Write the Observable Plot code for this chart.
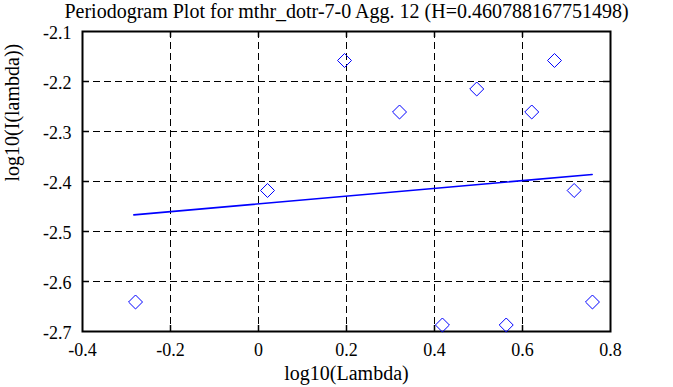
<!DOCTYPE html>
<html>
<head>
<meta charset="utf-8">
<script src="https://cdn.jsdelivr.net/npm/d3@7"></script>
<script src="https://cdn.jsdelivr.net/npm/@observablehq/plot@0.6"></script>
<style>
  html, body { margin: 0; padding: 0; background: #fff; }
  svg { display: block; }
</style>
</head>
<body>
<div id="chart"></div>
<script>
const titleText = "Periodogram Plot for mthr_dotr-7-0 Agg. 12 (H=0.460788167751498)";
const xLabel = "log10(Lambda)";
const yLabel = "log10(I(lambda))";

const logLambda = [-0.2795, 0.0205, 0.1955, 0.3205, 0.418, 0.496, 0.563, 0.621, 0.6727, 0.7174, 0.759];
const logI      = [-2.641, -2.418, -2.158, -2.261, -2.687, -2.215, -2.687, -2.261, -2.158, -2.418, -2.641];

const fitX = [-0.2833, 0.7583];
const fitY = [-2.4667, -2.386];

const xTicks = [-0.4, -0.2, 0, 0.2, 0.4, 0.6, 0.8];
const xTickLabels = ["-0.4", "-0.2", "0", "0.2", "0.4", "0.6", "0.8"];
const yTicks = [-2.1, -2.2, -2.3, -2.4, -2.5, -2.6, -2.7];
const yTickLabels = ["-2.1", "-2.2", "-2.3", "-2.4", "-2.5", "-2.6", "-2.7"];

const points = logLambda.map((x, i) => ({x, y: logI[i]}));
const fit = fitX.map((x, i) => ({x, y: fitY[i]}));
const xInner = xTicks.slice(1, -1);
const yInner = yTicks.slice(1, -1);

const chart = Plot.plot({
  width: 673,
  height: 387,
  marginLeft: 82,
  marginRight: 63,
  marginTop: 31,
  marginBottom: 56,
  style: {fontFamily: "Liberation Serif", fontSize: "18px", color: "black", background: "white"},
  x: {domain: [-0.4, 0.8]},
  y: {domain: [-2.7, -2.1]},
  marks: [
    Plot.ruleX(xInner, {x: d => d, stroke: "black", strokeWidth: 1, strokeDasharray: "7,4"}),
    Plot.ruleY(yInner, {y: d => d, stroke: "black", strokeWidth: 1, strokeDasharray: "7,4"}),
    Plot.tickX(xInner, {x: d => d, stroke: "black", strokeWidth: 1.5, insetBottom: 294}),
    Plot.tickX(xInner, {x: d => d, stroke: "black", strokeWidth: 1.5, insetTop: 294}),
    Plot.tickY(yInner, {y: d => d, stroke: "black", strokeWidth: 1.5, insetLeft: 521}),
    Plot.tickY(yInner, {y: d => d, stroke: "black", strokeWidth: 1.5, insetRight: 521}),
    Plot.axisX(xTicks, {anchor: "bottom", tickSize: 0, tickPadding: 12, fontSize: 18,
      tickFormat: d => xTickLabels[xTicks.indexOf(d)], label: null}),
    Plot.axisY(yTicks, {anchor: "left", tickSize: 0, tickPadding: 11, fontSize: 18, dy: 2,
      tickFormat: d => yTickLabels[yTicks.indexOf(d)], label: null}),
    Plot.frame({stroke: "black", strokeWidth: 2}),
    Plot.line(fit, {x: "x", y: "y", stroke: "#0000ff", strokeWidth: 1.6}),
    Plot.dot(points, {x: "x", y: "y", symbol: "diamond2", r: 6.3, stroke: "#0000ff", strokeWidth: 1, fill: "none"}),
    Plot.text([titleText], {text: d => d, frameAnchor: "top", lineAnchor: "bottom", dy: -14, fontSize: 20}),
    Plot.text([xLabel], {text: d => d, frameAnchor: "bottom", lineAnchor: "bottom", dy: 48, fontSize: 20}),
    Plot.text([yLabel], {text: d => d, frameAnchor: "left", rotate: -90, lineAnchor: "middle", dx: -70, fontSize: 20})
  ]
});
document.getElementById("chart").appendChild(chart);
</script>
</body>
</html>
